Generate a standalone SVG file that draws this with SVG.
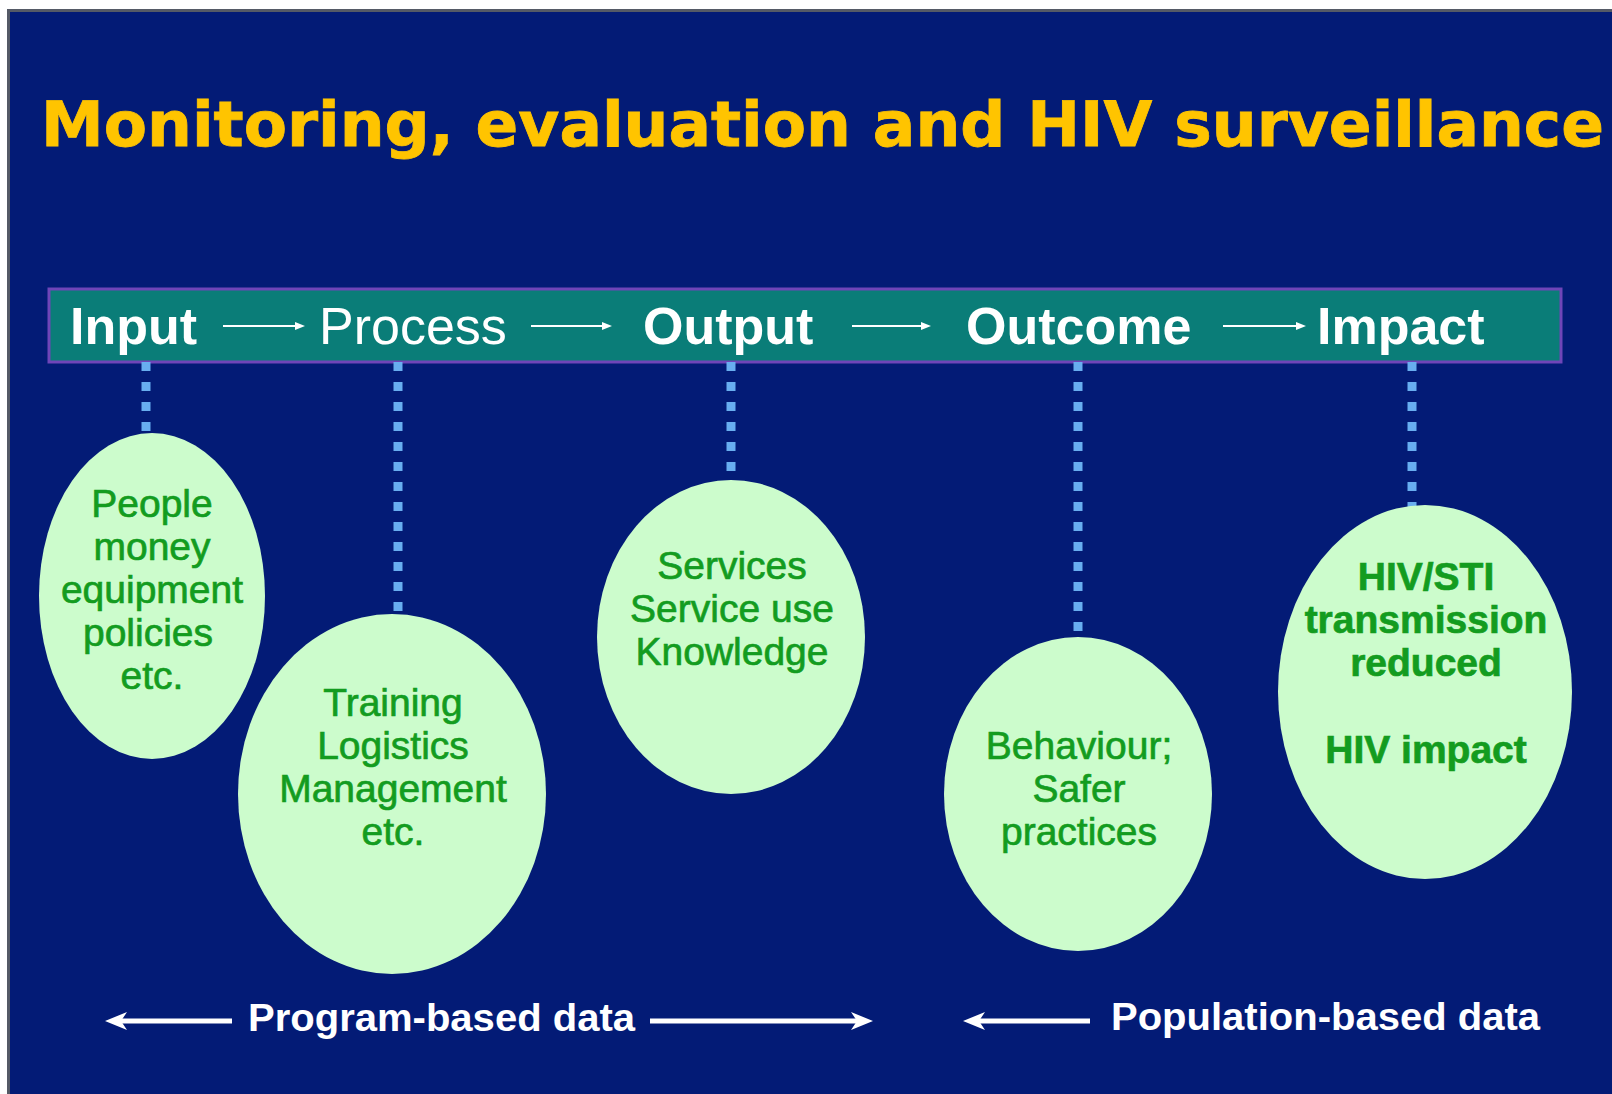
<svg xmlns="http://www.w3.org/2000/svg" width="1612" height="1094" viewBox="0 0 1612 1094">
<defs>
<style>
.title{font-family:"DejaVu Sans",Verdana,sans-serif;font-weight:bold;font-size:62px;fill:#ffc400;stroke:#ffc400;stroke-width:0.8}
.bar{font-family:"Liberation Sans",Arial,sans-serif;font-size:52px;fill:#ffffff}
.b{font-weight:bold}
.node ellipse{fill:#ccfccc}
.nt{font-family:"Liberation Sans",Arial,sans-serif;font-size:39px;fill:#139c1f;stroke:#139c1f;stroke-width:0.7;text-anchor:middle}
.bt{font-family:"Liberation Sans",Arial,sans-serif;font-size:39px;font-weight:bold;fill:#ffffff}
.dot{stroke:#68aef0;stroke-width:9;stroke-dasharray:9 11;fill:none}
.thin{stroke:#ffffff;stroke-width:2;fill:none}
.thick{stroke:#ffffff;stroke-width:5;fill:none}
</style>
<marker id="ah" markerUnits="userSpaceOnUse" markerWidth="10" markerHeight="8" refX="2" refY="4" orient="auto">
<path d="M0,0 L10,4 L0,8 Z" fill="#ffffff"/>
</marker>
<marker id="bh" markerUnits="userSpaceOnUse" markerWidth="22" markerHeight="20" refX="10" refY="10" orient="auto">
<path d="M0,1 L22,10 L0,19 L6,10 Z" fill="#ffffff"/>
</marker>
</defs>
<rect x="0" y="0" width="1612" height="1094" fill="#ffffff"/>
<rect x="7" y="9" width="1605" height="1085" fill="#555a66"/>
<rect x="10" y="12" width="1602" height="1082" fill="#031b76"/>
<text class="title" x="41" y="146" textLength="1563" lengthAdjust="spacingAndGlyphs">Monitoring, evaluation and HIV surveillance</text>

<g id="bar">
<rect x="49" y="289" width="1512" height="73" fill="#0a7d78" stroke="#6f45b8" stroke-width="3"/>
<text class="bar b" x="70" y="344">Input</text>
<text class="bar" x="319" y="344">Process</text>
<text class="bar b" x="643" y="344">Output</text>
<text class="bar b" x="966" y="344">Outcome</text>
<text class="bar b" x="1317" y="344">Impact</text>
</g>

<g id="connectors">
<line class="thin" x1="223" y1="326" x2="297" y2="326" marker-end="url(#ah)"/>
<line class="thin" x1="531" y1="326" x2="604" y2="326" marker-end="url(#ah)"/>
<line class="thin" x1="852" y1="326" x2="923" y2="326" marker-end="url(#ah)"/>
<line class="thin" x1="1223" y1="326" x2="1298" y2="326" marker-end="url(#ah)"/>
<line class="dot" x1="146" y1="362" x2="146" y2="434"/>
<line class="dot" x1="398" y1="362" x2="398" y2="614"/>
<line class="dot" x1="731" y1="362" x2="731" y2="476"/>
<line class="dot" x1="1078" y1="362" x2="1078" y2="634"/>
<line class="dot" x1="1412" y1="362" x2="1412" y2="508"/>
<line class="thick" x1="232" y1="1021" x2="117" y2="1021" marker-end="url(#bh)"/>
<line class="thick" x1="650" y1="1021" x2="861" y2="1021" marker-end="url(#bh)"/>
<line class="thick" x1="1090" y1="1021" x2="975" y2="1021" marker-end="url(#bh)"/>
</g>

<g id="node-input" class="node">
<ellipse cx="152" cy="596" rx="113" ry="163"/>
<text class="nt" x="152" y="517">People</text>
<text class="nt" x="152" y="560">money</text>
<text class="nt" x="152" y="603">equipment</text>
<text class="nt" x="148" y="646">policies</text>
<text class="nt" x="152" y="689">etc.</text>
</g>

<g id="node-process" class="node">
<ellipse cx="392" cy="794" rx="154" ry="180"/>
<text class="nt" x="393" y="716">Training</text>
<text class="nt" x="393" y="759">Logistics</text>
<text class="nt" x="393" y="802">Management</text>
<text class="nt" x="393" y="845">etc.</text>
</g>

<g id="node-output" class="node">
<ellipse cx="731" cy="637" rx="134" ry="157"/>
<text class="nt" x="732" y="579">Services</text>
<text class="nt" x="732" y="622">Service use</text>
<text class="nt" x="732" y="665">Knowledge</text>
</g>

<g id="node-outcome" class="node">
<ellipse cx="1078" cy="794" rx="134" ry="157"/>
<text class="nt" x="1079" y="759">Behaviour;</text>
<text class="nt" x="1079" y="802">Safer</text>
<text class="nt" x="1079" y="845">practices</text>
</g>

<g id="node-impact" class="node">
<ellipse cx="1425" cy="692" rx="147" ry="187"/>
<text class="nt b" x="1426" y="590">HIV/STI</text>
<text class="nt b" x="1426" y="633">transmission</text>
<text class="nt b" x="1426" y="676">reduced</text>
<text class="nt b" x="1426" y="763">HIV impact</text>
</g>

<g id="labels">
<text class="bt" x="248" y="1031" textLength="387" lengthAdjust="spacingAndGlyphs">Program-based data</text>
<text class="bt" x="1111" y="1030" textLength="429" lengthAdjust="spacingAndGlyphs">Population-based data</text>
</g>
</svg>
